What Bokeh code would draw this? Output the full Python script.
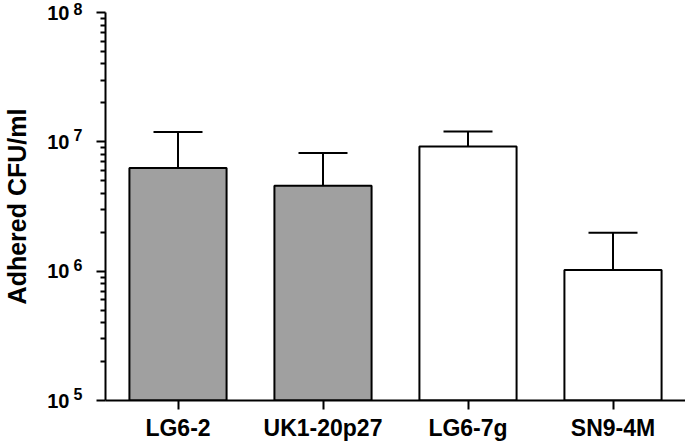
from bokeh.plotting import figure
from bokeh.models import FixedTicker, ColumnDataSource, Whisker, TeeHead, Range1d, LogAxis
from bokeh.embed import file_html
from bokeh.resources import INLINE

strains = ["LG6-2", "UK1-20p27", "LG6-7g", "SN9-4M"]
mean_cfu = [6.27e6, 4.57e6, 9.2e6, 1.02e6]
upper_cfu = [1.19e7, 8.18e6, 1.2e7, 1.98e6]
fill_colors = ["#a0a0a0", "#a0a0a0", "#ffffff", "#ffffff"]
decades = [5, 6, 7, 8]
y_label = "Adhered CFU/ml"

FONT = "Liberation Sans"

pos = list(range(len(strains)))
src = ColumnDataSource(dict(x=pos, mean=mean_cfu, upper=upper_cfu, color=fill_colors))

y_lo, y_hi = 10 ** decades[0], 10 ** decades[-1]
x_rng = Range1d(-0.5, len(strains) - 0.5)
p = figure(x_range=x_rng, y_axis_type="log", y_range=(y_lo, y_hi),
           width=685, height=443, output_backend="svg", toolbar_location=None,
           min_border_left=102, min_border_right=0, min_border_top=12, min_border_bottom=42)

p.vbar(x="x", top="mean", bottom=y_lo, width=0.67, source=src,
       fill_color="color", line_color="black", line_width=2)

wh = Whisker(base="x", lower="mean", upper="upper", source=src, dimension="height",
             line_color="black", line_width=2,
             upper_head=TeeHead(size=49, line_color="black", line_width=2), lower_head=None)
p.add_layout(wh)

p.outline_line_color = None
p.xgrid.grid_line_color = None
p.ygrid.grid_line_color = None

# x axis
xa = p.xaxis[0]
xa.ticker = FixedTicker(ticks=pos, minor_ticks=[])
xa.major_label_overrides = {i: s for i, s in zip(pos, strains)}
xa.axis_line_width = 2
xa.major_tick_line_width = 2
xa.major_tick_in = 0
xa.major_tick_out = 9
xa.minor_tick_out = 0
xa.minor_tick_in = 0
xa.major_label_text_font = FONT
xa.major_label_text_font_style = "bold"
xa.major_label_text_color = "black"
xa.major_label_text_font_size = "23px"
xa.major_label_text_line_height = 1.0
xa.major_label_standoff = 5

# inner y axis: line, ticks and raised exponents
major = [10 ** d for d in decades]
minor = [k * 10 ** d for d in decades[:-1] for k in range(2, 10)]
ya = p.yaxis[0]
ya.ticker = FixedTicker(ticks=major, minor_ticks=minor)
ya.major_label_overrides = {10 ** d: f"{d}\n" for d in decades}
ya.axis_line_width = 2
ya.major_tick_line_width = 2
ya.major_tick_in = 0
ya.major_tick_out = 9
ya.minor_tick_out = 5
ya.minor_tick_in = 0
ya.minor_tick_line_width = 2
ya.minor_tick_line_color = "black"
ya.major_label_text_font = FONT
ya.major_label_text_font_style = "bold"
ya.major_label_text_color = "black"
ya.major_label_text_font_size = "16px"
ya.major_label_text_line_height = 0.7
ya.major_label_standoff = 14

# outer y axis: the "10" bases and the axis title
yb = LogAxis(ticker=FixedTicker(ticks=major, minor_ticks=[]),
             major_label_overrides={10 ** d: "10" for d in decades},
             axis_line_color=None, major_tick_line_color=None, minor_tick_line_color=None,
             major_tick_out=0, major_tick_in=0, minor_tick_out=0, minor_tick_in=0,
             major_label_standoff=1,
             major_label_text_font=FONT, major_label_text_font_style="bold",
             major_label_text_font_size="20px", major_label_text_color="black",
             axis_label=y_label, axis_label_standoff=13,
             axis_label_text_font=FONT, axis_label_text_font_style="bold",
             axis_label_text_font_size="25px", axis_label_text_color="black",
             axis_label_text_line_height=1.0)
p.add_layout(yb, "left")

open("out.html", "w").write(file_html(p, INLINE))
